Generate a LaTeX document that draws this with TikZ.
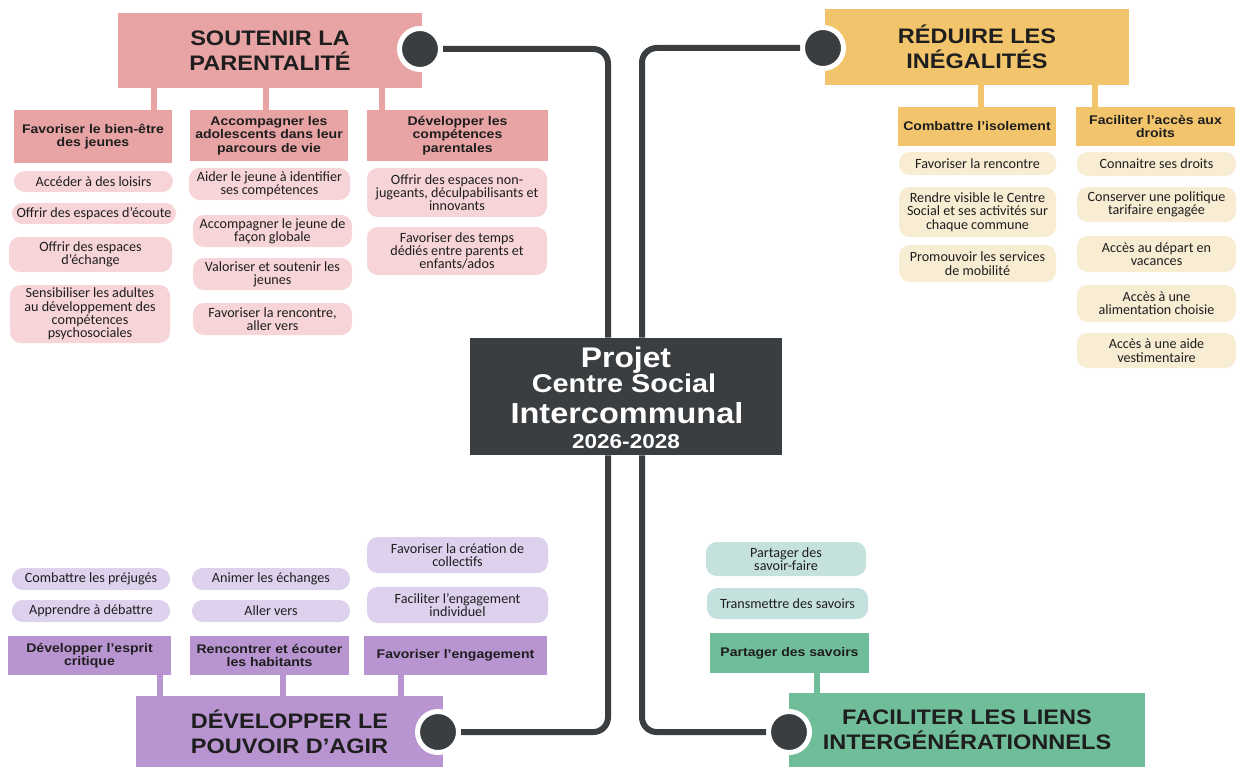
\documentclass[tikz,border=0pt]{standalone}
\usepackage{fontspec}
\setmainfont{Carlito}
\newfontfamily\grot{Liberation Sans}[FakeStretch=1.12]
\usetikzlibrary{calc}

\definecolor{knobgray}{HTML}{3B3E41}
\definecolor{pinkT}{HTML}{E8A3A4}
\definecolor{pinkP}{HTML}{F6D4D7}
\definecolor{goldT}{HTML}{F2C46C}
\definecolor{goldP}{HTML}{F8ECD3}
\definecolor{lilaT}{HTML}{B894D1}
\definecolor{lilaP}{HTML}{DDD1EE}
\definecolor{vertT}{HTML}{70BD99}
\definecolor{vertP}{HTML}{C5E1DD}
\definecolor{inkk}{HTML}{1E1E1E}

\tikzset{
  boxat/.style args={#1/#2/#3/#4}{at={({(#1+#3)/2},{(#2+#4)/2})}, minimum width={(#3-#1)*0.75pt}, minimum height={(#4-#2)*0.75pt}},
  titlebox/.style={inner sep=0pt, align=center, text=inkk, font=\grot\bfseries\fontsize{15.75}{18.5}\selectfont},
  headbox/.style={inner sep=0pt, align=center, text=inkk, font=\grot\bfseries\fontsize{9.4}{10}\selectfont},
  pill/.style={inner sep=0pt, align=center, rounded corners=8pt, text=inkk, font=\fontsize{10.6}{10}\selectfont},
  knob/.style={circle, fill=knobgray, draw=white, line width=3.75pt, minimum size=30.75pt, inner sep=0pt},
  trunk/.style={draw=knobgray, line width=4.5pt, rounded corners=11pt},
  bar/.style={line width=4.5pt}
}

\begin{document}
\begin{tikzpicture}[x=0.75pt,y=0.75pt,yscale=-1,xscale=1]
\useasboundingbox (0,0) rectangle (1244,767);

%Shape: centre box
\node[fill=knobgray, inner sep=0pt, boxat=470/338/782/455] (main) {};
% Text Node
\node[anchor=base, text=white, font=\grot\bfseries\fontsize{21.3}{22}\selectfont] (mainA) at (626,367) {Projet};
\node[anchor=base, text=white, font=\grot\bfseries\fontsize{19.3}{20}\selectfont] (mainB) at (624,392) {Centre Social};
\node[anchor=base, text=white, font=\grot\bfseries\fontsize{21.75}{22}\selectfont] (mainC) at (627,423) {Intercommunal};
\node[anchor=base, text=white, font=\grot\bfseries\fontsize{15.1}{16}\selectfont] (mainD) at (626,448) {2026-2028};

%%% SOUTENIR LA PARENTALITE
\node[titlebox, fill=pinkT, boxat=118/13/422/88] (tSout) {SOUTENIR LA\\PARENTALITÉ};
\node[headbox, fill=pinkT, boxat=14/110/172/163] (hBien) {Favoriser le bien-être\\des jeunes};
\node[headbox, fill=pinkT, boxat=190/110/348/161] (hAdo) {Accompagner les\\adolescents dans leur\\parcours de vie};
\node[headbox, fill=pinkT, boxat=367/110/548/161] (hComp) {Développer les\\compétences\\parentales};
\coordinate (bS1) at (154,0);
\coordinate (bS2) at (266,0);
\coordinate (bS3) at (382,0);
\draw[bar, pinkT] (bS1 |- tSout.south) -- (bS1 |- hBien.north);
\draw[bar, pinkT] (bS2 |- tSout.south) -- (bS2 |- hAdo.north);
\draw[bar, pinkT] (bS3 |- tSout.south) -- (bS3 |- hComp.north);
% pills
\node[pill, fill=pinkP, boxat=14/171/173/192] (pS1) {Accéder à des loisirs};
\node[pill, fill=pinkP, boxat=12/203/176/224] (pS2) {Offrir des espaces d’écoute};
\node[pill, fill=pinkP, boxat=9/237/172/272] (pS3) {Offrir des espaces\\d’échange};
\node[pill, fill=pinkP, boxat=10/285/170/343] (pS4) {Sensibiliser les adultes\\au développement des\\compétences\\psychosociales};
\node[pill, fill=pinkP, boxat=189/168/350/200] (pS5) {Aider le jeune à identifier\\ses compétences};
\node[pill, fill=pinkP, boxat=193/215/352/247] (pS6) {Accompagner le jeune de\\façon globale};
\node[pill, fill=pinkP, boxat=193/258/352/290] (pS7) {Valoriser et soutenir les\\jeunes};
\node[pill, fill=pinkP, boxat=193/303/352/335] (pS8) {Favoriser la rencontre,\\aller vers};
\node[pill, fill=pinkP, boxat=367/168/547/217] (pS9) {Offrir des espaces non-\\jugeants, déculpabilisants et\\innovants};
\node[pill, fill=pinkP, boxat=367/227/547/275] (pS10) {Favoriser des temps\\dédiés entre parents et\\enfants/ados};
\node[knob] (kSout) at (420,49) {};

%%% REDUIRE LES INEGALITES
\node[titlebox, fill=goldT, boxat=825/9/1129/85] (tRed) {RÉDUIRE LES\\INÉGALITÉS};
\node[headbox, fill=goldT, boxat=898/107/1056/146] (hIso) {Combattre l’isolement};
\node[headbox, fill=goldT, boxat=1076/107/1235/146] (hDroit) {Faciliter l’accès aux\\droits};
\coordinate (bR1) at (981,0);
\coordinate (bR2) at (1095,0);
\draw[bar, goldT] (bR1 |- tRed.south) -- (bR1 |- hIso.north);
\draw[bar, goldT] (bR2 |- tRed.south) -- (bR2 |- hDroit.north);
% pills
\node[pill, fill=goldP, boxat=899/152/1056/175] (pR1) {Favoriser la rencontre};
\node[pill, fill=goldP, boxat=899/187/1056/237] (pR2) {Rendre visible le Centre\\Social et ses activités sur\\chaque commune};
\node[pill, fill=goldP, boxat=899/245/1056/282] (pR3) {Promouvoir les services\\de mobilité};
\node[pill, fill=goldP, boxat=1077/152/1236/176] (pR4) {Connaitre ses droits};
\node[pill, fill=goldP, boxat=1077/187/1236/222] (pR5) {Conserver une politique\\tarifaire engagée};
\node[pill, fill=goldP, boxat=1077/236/1236/272] (pR6) {Accès au départ en\\vacances};
\node[pill, fill=goldP, boxat=1077/285/1236/322] (pR7) {Accès à une\\alimentation choisie};
\node[pill, fill=goldP, boxat=1077/333/1236/368] (pR8) {Accès à une aide\\vestimentaire};
\node[knob] (kRed) at (823,48) {};

%%% DEVELOPPER LE POUVOIR D'AGIR
\node[titlebox, fill=lilaT, boxat=136/696/443/767] (tAgir) {DÉVELOPPER LE\\POUVOIR D’AGIR};
\node[headbox, fill=lilaT, boxat=8/636/171/675] (hEsp) {Développer l’esprit\\critique};
\node[headbox, fill=lilaT, boxat=190/636/349/675] (hHab) {Rencontrer et écouter\\les habitants};
\node[headbox, fill=lilaT, boxat=364/636/547/675] (hEng) {Favoriser l’engagement};
\coordinate (bA1) at (160,0);
\coordinate (bA2) at (283,0);
\coordinate (bA3) at (401,0);
\draw[bar, lilaT] (bA1 |- hEsp.south) -- (bA1 |- tAgir.north);
\draw[bar, lilaT] (bA2 |- hHab.south) -- (bA2 |- tAgir.north);
\draw[bar, lilaT] (bA3 |- hEng.south) -- (bA3 |- tAgir.north);
% pills
\node[pill, fill=lilaP, boxat=12/568/170/590] (pA1) {Combattre les préjugés};
\node[pill, fill=lilaP, boxat=12/600/170/622] (pA2) {Apprendre à débattre};
\node[pill, fill=lilaP, boxat=192/568/350/590] (pA3) {Animer les échanges};
\node[pill, fill=lilaP, boxat=192/600/350/622] (pA4) {Aller vers};
\node[pill, fill=lilaP, boxat=367/537/548/573] (pA5) {Favoriser la création de\\collectifs};
\node[pill, fill=lilaP, boxat=367/587/548/623] (pA6) {Faciliter l’engagement\\individuel};
\node[knob] (kAgir) at (438,732) {};

%%% FACILITER LES LIENS INTERGENERATIONNELS
\node[titlebox, fill=vertT, boxat=789/693/1145/767] (tLien) {FACILITER LES LIENS\\INTERGÉNÉRATIONNELS};
\node[headbox, fill=vertT, boxat=710/633/869/673] (hSav) {Partager des savoirs};
\coordinate (bL1) at (817,0);
\draw[bar, vertT] (bL1 |- hSav.south) -- (bL1 |- tLien.north);
% pills
\node[pill, fill=vertP, boxat=706/542/866/576] (pL1) {Partager des\\savoir-faire};
\node[pill, fill=vertP, boxat=707/588/868/619] (pL2) {Transmettre des savoirs};
\node[knob] (kLien) at (789,732) {};

%%% trunk lines
\draw[trunk] (kSout.east) -| ([xshift=-13.5pt]main.north);
\draw[trunk] (kRed.west) -| ([xshift=12pt]main.north);
\draw[trunk] (kAgir.east) -| ([xshift=-13.5pt]main.south);
\draw[trunk] (kLien.west) -| ([xshift=12pt]main.south);

\end{tikzpicture}
\end{document}
